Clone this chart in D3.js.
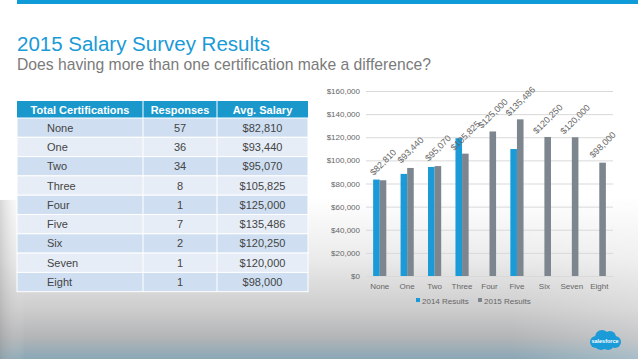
<!DOCTYPE html>
<html>
<head>
<meta charset="utf-8">
<script src="https://cdn.jsdelivr.net/npm/d3@7"></script>
<style>
  html, body { margin: 0; padding: 0; }
  body { width: 638px; height: 359px; overflow: hidden; font-family: "Liberation Sans", Arial, sans-serif; }
</style>
</head>
<body>
<div id="slide"></div>
<script>

// ---- data ----
var categories = ["None", "One", "Two", "Three", "Four", "Five", "Six", "Seven", "Eight"];
var responses = [57, 36, 34, 8, 1, 7, 2, 1, 1];
var salary2015 = [82810, 93440, 95070, 105825, 125000, 135486, 120250, 120000, 98000];
// 2014 has no answers for Four, Six, Seven, Eight
var salary2014 = [83400, 88300, 94300, 119200, null, 109800, null, null, null];
var seriesNames = ["2014 Results", "2015 Results"];
var seriesColors = ["#1a9ad6", "#7d868e"];
var yTicks = [0, 20000, 40000, 60000, 80000, 100000, 120000, 140000, 160000];
var tableHeader = ["Total Certifications", "Responses", "Avg. Salary"];

var W = 638, H = 359;
var money = d3.format("$,");

var svg = d3.select("#slide").append("svg")
    .attr("width", W)
    .attr("height", H);

// background: white slide fading to grey / blue at the bottom
var defs = svg.append("defs");
var bg = defs.append("linearGradient")
    .attr("id", "bg").attr("x1", 0).attr("y1", 0).attr("x2", 0).attr("y2", 1);
[[0, "#ffffff"], [0.55, "#ffffff"], [0.72, "#ebebeb"], [0.86, "#cdcdcd"], [0.94, "#b3b5b7"], [1, "#8aa7b6"]]
    .forEach(function(s) { bg.append("stop").attr("offset", s[0]).attr("stop-color", s[1]); });

var side = defs.append("linearGradient")
    .attr("id", "side").attr("x1", 0).attr("y1", 0).attr("x2", 1).attr("y2", 0);
[[0, "#8f8f8f", 0.35], [0.04, "#ffffff", 0], [0.8, "#ffffff", 0], [1, "#ffffff", 0.25]]
    .forEach(function(s) { side.append("stop").attr("offset", s[0]).attr("stop-color", s[1]).attr("stop-opacity", s[2]); });

svg.append("rect").attr("width", W).attr("height", H).attr("fill", "url(#bg)");
svg.append("rect").attr("y", 200).attr("width", W).attr("height", H - 200).attr("fill", "url(#side)");

// top blue strip
svg.append("rect")
    .attr("x", 17).attr("y", 0)
    .attr("width", W - 17).attr("height", 4)
    .attr("fill", "#0f9bd7");

// titles
svg.append("text")
    .attr("x", 17).attr("y", 51)
    .style("font-size", "20.5px")
    .attr("fill", "#1a9ad6")
    .text("2015 Salary Survey Results");
svg.append("text")
    .attr("x", 17).attr("y", 70)
    .style("font-size", "15.7px")
    .attr("fill", "#7b7b7b")
    .text("Does having more than one certification make a difference?");

// ================= table =================
var colEdges = [17, 143, 217, 308];
var tableTop = 101, headH = 17, rowH = 19.3;

var table = svg.append("g");
table.append("rect")
    .attr("x", colEdges[0]).attr("y", tableTop)
    .attr("width", colEdges[3] - colEdges[0]).attr("height", headH)
    .attr("fill", "#1a98cc");

tableHeader.forEach(function(h, i) {
    table.append("text")
        .attr("x", (colEdges[i] + colEdges[i + 1]) / 2)
        .attr("y", tableTop + headH / 2 + 4)
        .attr("text-anchor", "middle")
        .style("font-size", "11px")
        .style("font-weight", "bold")
        .attr("fill", "#ffffff")
        .text(h);
});

var rows = table.selectAll("g.row")
    .data(categories)
    .enter().append("g")
    .attr("class", "row")
    .attr("transform", function(d, i) { return "translate(0," + (tableTop + headH + i * rowH) + ")"; });

rows.append("rect")
    .attr("x", colEdges[0]).attr("width", colEdges[3] - colEdges[0])
    .attr("height", rowH)
    .attr("fill", function(d, i) { return i % 2 == 0 ? "#cfdff1" : "#e6edf6"; })
    .attr("stroke", "#ffffff").attr("stroke-width", 1);

// vertical cell borders
[1, 2].forEach(function(c) {
    table.append("line")
        .attr("x1", colEdges[c]).attr("x2", colEdges[c])
        .attr("y1", tableTop).attr("y2", tableTop + headH + categories.length * rowH)
        .attr("stroke", "#ffffff").attr("stroke-width", 1);
});

rows.append("text")
    .attr("x", 47).attr("y", rowH / 2 + 4)
    .style("font-size", "11px").attr("fill", "#444444")
    .text(function(d) { return d; });
rows.append("text")
    .attr("x", (colEdges[1] + colEdges[2]) / 2).attr("y", rowH / 2 + 4)
    .attr("text-anchor", "middle")
    .style("font-size", "11px").attr("fill", "#444444")
    .text(function(d, i) { return responses[i]; });
rows.append("text")
    .attr("x", (colEdges[2] + colEdges[3]) / 2).attr("y", rowH / 2 + 4)
    .attr("text-anchor", "middle")
    .style("font-size", "11px").attr("fill", "#444444")
    .text(function(d, i) { return money(salary2015[i]); });

// ================= bar chart =================
var x0 = d3.scaleBand()
    .domain(categories)
    .range([366, 613])
    .paddingInner(0.52)
    .paddingOuter(0.26);
var x1 = d3.scaleBand()
    .domain(seriesNames)
    .range([0, x0.bandwidth()]);
var y = d3.scaleLinear()
    .domain([0, 160000])
    .range([276, 91]);

var chart = svg.append("g").style("font-family", "'Liberation Sans', Arial, sans-serif");

var yAxis = chart.append("g")
    .attr("transform", "translate(366,0)")
    .call(d3.axisLeft(y).tickValues(yTicks).tickFormat(money).tickSize(-247).tickPadding(6));
yAxis.select(".domain").remove();
yAxis.selectAll(".tick line").attr("stroke", "#d9d9d9");
yAxis.selectAll(".tick text").attr("fill", "#666666").style("font-size", "8px");

var xAxis = chart.append("g")
    .attr("transform", "translate(0,276)")
    .call(d3.axisBottom(x0).tickSize(0).tickPadding(7));
xAxis.select(".domain").attr("stroke", "#d9d9d9");
xAxis.selectAll(".tick text").attr("fill", "#666666").style("font-size", "8px");

var series = [salary2014, salary2015];
var groups = chart.selectAll("g.cat")
    .data(categories)
    .enter().append("g")
    .attr("class", "cat")
    .attr("transform", function(d) { return "translate(" + x0(d) + ",0)"; });

groups.selectAll("rect")
    .data(function(d, i) {
        return seriesNames.map(function(s, k) { return {name: s, k: k, value: series[k][i]}; })
            .filter(function(e) { return e.value != null; });
    })
    .enter().append("rect")
    .attr("x", function(e) { return x1(e.name); })
    .attr("width", x1.bandwidth())
    .attr("y", function(e) { return y(e.value); })
    .attr("height", function(e) { return y(0) - y(e.value); })
    .attr("fill", function(e) { return seriesColors[e.k]; });

// rotated value labels on the 2015 series
groups.append("text")
    .attr("transform", function(d, i) {
        var cx = x1(seriesNames[1]) + x1.bandwidth() / 2;
        return "translate(" + cx + "," + (y(salary2015[i]) - 18) + ") rotate(-45)";
    })
    .attr("text-anchor", "middle")
    .attr("dy", "0.35em")
    .style("font-size", "9px")
    .attr("fill", "#666666")
    .text(function(d, i) { return money(salary2015[i]); });

// legend
var legend = chart.append("g").attr("transform", "translate(416,301)");
var lx = [0, 62];
seriesNames.forEach(function(s, k) {
    legend.append("rect")
        .attr("x", lx[k]).attr("y", -3)
        .attr("width", 4).attr("height", 4)
        .attr("fill", seriesColors[k]);
    legend.append("text")
        .attr("x", lx[k] + 6).attr("y", 2.5)
        .style("font-size", "8px")
        .attr("fill", "#666666")
        .text(s);
});

// salesforce cloud logo, bottom right
var logo = svg.append("g").attr("transform", "translate(605,340)");
[[-9, 2, 6], [-3, -3, 7], [5, -3, 6], [10, 2, 6], [3, 4, 6], [-4, 4, 6]].forEach(function(c) {
    logo.append("circle").attr("cx", c[0]).attr("cy", c[1]).attr("r", c[2]).attr("fill", "#1b9bd8");
});
logo.append("text")
    .attr("x", 0).attr("y", 2.5)
    .attr("text-anchor", "middle")
    .style("font-size", "5.5px")
    .style("font-weight", "bold")
    .attr("fill", "#ffffff")
    .text("salesforce");

</script>
</body>
</html>
